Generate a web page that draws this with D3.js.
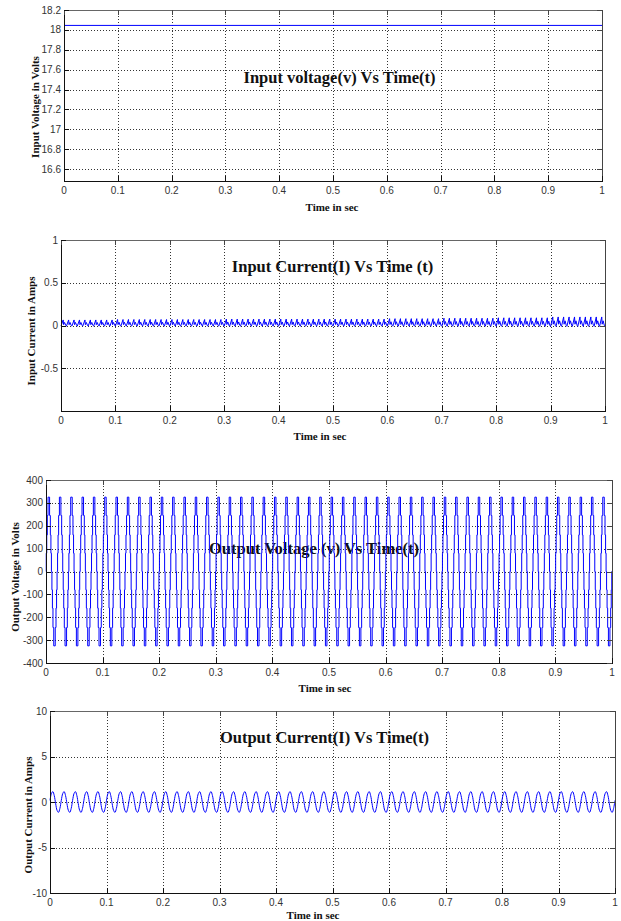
<!DOCTYPE html>
<html>
<head>
<meta charset="utf-8">
<script src="https://cdn.jsdelivr.net/npm/d3@7"></script>
<style>
  body { margin: 0; background: #fff; }
  .tick-label { font-family: "Liberation Sans", Arial, sans-serif; font-size: 10px; fill: #333; }
  .title { font-family: "Liberation Serif", "Times New Roman", serif; font-weight: bold; font-size: 16.5px; fill: #111; }
  .axis-label { font-family: "Liberation Serif", "Times New Roman", serif; font-weight: bold; font-size: 11px; fill: #111; }
</style>
</head>
<body>
<svg id="chart" width="621" height="921"></svg>
<script>
// shared time axis
var timeTicks = [0, 0.1, 0.2, 0.3, 0.4, 0.5, 0.6, 0.7, 0.8, 0.9, 1];
var timeTickLabels = ["0", "0.1", "0.2", "0.3", "0.4", "0.5", "0.6", "0.7", "0.8", "0.9", "1"];

// input voltage (flat dc)
var inVoltTime = [0, 1];
var inVoltValue = [18.045, 18.045];
var inVoltTicks = [16.6, 16.8, 17, 17.2, 17.4, 17.6, 17.8, 18, 18.2];

// input current : 100 Hz ripple, peak grows a bit with time
var inCurrTicks = [-0.5, 0, 0.5, 1];
var inCurrCycleStart = [0, 0.01, 0.02, 0.03, 0.04, 0.05, 0.06, 0.07, 0.08, 0.09,
  0.10, 0.11, 0.12, 0.13, 0.14, 0.15, 0.16, 0.17, 0.18, 0.19,
  0.20, 0.21, 0.22, 0.23, 0.24, 0.25, 0.26, 0.27, 0.28, 0.29,
  0.30, 0.31, 0.32, 0.33, 0.34, 0.35, 0.36, 0.37, 0.38, 0.39,
  0.40, 0.41, 0.42, 0.43, 0.44, 0.45, 0.46, 0.47, 0.48, 0.49,
  0.50, 0.51, 0.52, 0.53, 0.54, 0.55, 0.56, 0.57, 0.58, 0.59,
  0.60, 0.61, 0.62, 0.63, 0.64, 0.65, 0.66, 0.67, 0.68, 0.69,
  0.70, 0.71, 0.72, 0.73, 0.74, 0.75, 0.76, 0.77, 0.78, 0.79,
  0.80, 0.81, 0.82, 0.83, 0.84, 0.85, 0.86, 0.87, 0.88, 0.89,
  0.90, 0.91, 0.92, 0.93, 0.94, 0.95, 0.96, 0.97, 0.98, 0.99];
var inCurrShapeTime = [0, 0.004, 0.0048, 0.0066, 0.0088];
var inCurrShapeLevel = [-0.1, 1, 0.15, 0.55, 0.0];   // fraction of the cycle peak
var inCurrPeakBySegment = [0.065, 0.07, 0.07, 0.075, 0.075, 0.075, 0.08, 0.085, 0.09, 0.1];

// output voltage : 50 Hz stepped (multilevel) wave
var outVoltTicks = [-400, -300, -200, -100, 0, 100, 200, 300, 400];
var cycleStart50 = [0, 0.02, 0.04, 0.06, 0.08, 0.10, 0.12, 0.14, 0.16, 0.18,
  0.20, 0.22, 0.24, 0.26, 0.28, 0.30, 0.32, 0.34, 0.36, 0.38,
  0.40, 0.42, 0.44, 0.46, 0.48, 0.50, 0.52, 0.54, 0.56, 0.58,
  0.60, 0.62, 0.64, 0.66, 0.68, 0.70, 0.72, 0.74, 0.76, 0.78,
  0.80, 0.82, 0.84, 0.86, 0.88, 0.90, 0.92, 0.94, 0.96, 0.98];
var outVoltSwitchTime = [0, 0.00044, 0.00133, 0.00233, 0.00367, 0.00633, 0.00767, 0.00867, 0.00956,
  0.01044, 0.01133, 0.01233, 0.01367, 0.01633, 0.01767, 0.01867, 0.01956];
var outVoltLevel = [0, 80, 160, 245, 325, 245, 160, 80, 0, -80, -160, -245, -325, -245, -160, -80, 0];

// output current : 50 Hz sine, ~1.15 A peak
var outCurrTicks = [-10, -5, 0, 5, 10];
var outCurrShapeTime = [0, 0.0025, 0.005, 0.0075, 0.01, 0.0125, 0.015, 0.0175];
var outCurrShapeValue = [0.18, 0.92, 1.14, 0.71, -0.18, -0.92, -1.14, -0.71];

// build the series from the cycle pieces
var inCurrData = [];
inCurrCycleStart.forEach(function (s) {
  var peak = inCurrPeakBySegment[Math.min(9, Math.floor(s * 10 + 1e-9))];
  inCurrShapeTime.forEach(function (t, j) {
    inCurrData.push([s + t, inCurrShapeLevel[j] * peak]);
  });
});
inCurrData.push([1, 0]);

var outVoltData = [];
cycleStart50.forEach(function (s) {
  outVoltSwitchTime.forEach(function (t, j) {
    outVoltData.push([s + t, outVoltLevel[j]]);
  });
});
outVoltData.push([1, 0]);

var outCurrData = [];
cycleStart50.forEach(function (s) {
  outCurrShapeTime.forEach(function (t, j) {
    outCurrData.push([s + t, outCurrShapeValue[j]]);
  });
});
outCurrData.push([1, outCurrShapeValue[0]]);

var inVoltData = inVoltTime.map(function (t, i) { return [t, inVoltValue[i]]; });

var panels = [
  { box: [64, 10, 602, 181], yDomain: [16.48, 18.2], yTicks: inVoltTicks, data: inVoltData, curve: d3.curveLinear,
    title: "Input voltage(v) Vs Time(t)", titlePos: [339.5, 77],
    ylabel: "Input Voltage in Volts", ylabelPos: [35, 107], xlabelPos: [332, 207] },
  { box: [61, 240, 605, 411], yDomain: [-1, 1], yTicks: inCurrTicks, data: inCurrData, curve: d3.curveLinear,
    title: "Input Current(I) Vs Time (t)", titlePos: [332.5, 266],
    ylabel: "Input Current in Amps", ylabelPos: [31, 331], xlabelPos: [320, 436] },
  { box: [46, 480, 612, 663], yDomain: [-400, 400], yTicks: outVoltTicks, data: outVoltData, curve: d3.curveStepAfter,
    title: "Output Voltage (v) Vs Time(t)", titlePos: [314, 548],
    ylabel: "Output Voltage in Volts", ylabelPos: [15, 577], xlabelPos: [325, 688] },
  { box: [50, 711, 615, 893], yDomain: [-10, 10], yTicks: outCurrTicks, data: outCurrData, curve: d3.curveCatmullRom,
    title: "Output Current(I) Vs Time(t)", titlePos: [324.5, 737],
    ylabel: "Output Current in Amps", ylabelPos: [28, 815], xlabelPos: [313, 915] }
];

var svg = d3.select("#chart");
svg.append("rect").attr("width", 621).attr("height", 921).attr("fill", "#fff");

panels.forEach(drawPanel);

function drawPanel(p) {
  var L = p.box[0], T = p.box[1], R = p.box[2], B = p.box[3];
  var x = d3.scaleLinear().domain([0, 1]).range([L, R]);
  var y = d3.scaleLinear().domain(p.yDomain).range([B, T]);
  var g = svg.append("g");

  // dotted grid
  g.selectAll(".vgrid").data(timeTicks.slice(1, -1)).enter().append("line")
    .attr("x1", function (d) { return Math.round(x(d)) + 0.5; })
    .attr("x2", function (d) { return Math.round(x(d)) + 0.5; })
    .attr("y1", T).attr("y2", B)
    .attr("stroke", "#333").attr("stroke-dasharray", "1,2");
  g.selectAll(".hgrid").data(p.yTicks.filter(function (d) { return d > p.yDomain[0] && d < p.yDomain[1]; }))
    .enter().append("line")
    .attr("y1", function (d) { return Math.round(y(d)) + 0.5; })
    .attr("y2", function (d) { return Math.round(y(d)) + 0.5; })
    .attr("x1", L).attr("x2", R)
    .attr("stroke", "#333").attr("stroke-dasharray", "1,2");

  // title sits under the trace
  g.append("text").attr("class", "title")
    .attr("x", p.titlePos[0]).attr("y", p.titlePos[1]).attr("dy", "0.35em")
    .attr("text-anchor", "middle").text(p.title);

  // trace
  var line = d3.line()
    .x(function (d) { return x(d[0]); })
    .y(function (d) { return y(d[1]); })
    .curve(p.curve);
  g.append("path").datum(p.data)
    .attr("d", line)
    .attr("fill", "none").attr("stroke", "#0000ff").attr("stroke-width", 1);

  // frame
  g.append("line").attr("x1", L).attr("x2", R).attr("y1", T + 0.5).attr("y2", T + 0.5).attr("stroke", "#666");
  g.append("line").attr("x1", R + 0.5).attr("x2", R + 0.5).attr("y1", T).attr("y2", B).attr("stroke", "#444");
  g.append("line").attr("x1", L).attr("x2", R + 1).attr("y1", B + 0.5).attr("y2", B + 0.5).attr("stroke", "#111");
  g.append("line").attr("x1", L + 0.5).attr("x2", L + 0.5).attr("y1", T).attr("y2", B + 1).attr("stroke", "#111");

  // inward ticks on all four sides
  timeTicks.forEach(function (d) {
    var xx = Math.round(x(d)) + 0.5;
    g.append("line").attr("x1", xx).attr("x2", xx).attr("y1", B).attr("y2", B - 5).attr("stroke", "#111");
    g.append("line").attr("x1", xx).attr("x2", xx).attr("y1", T).attr("y2", T + 5).attr("stroke", "#444");
  });
  p.yTicks.forEach(function (d) {
    var yy = Math.round(y(d)) + 0.5;
    g.append("line").attr("y1", yy).attr("y2", yy).attr("x1", L).attr("x2", L + 5).attr("stroke", "#111");
    g.append("line").attr("y1", yy).attr("y2", yy).attr("x1", R).attr("x2", R - 5).attr("stroke", "#444");
  });

  // tick labels
  g.selectAll(".xt").data(timeTicks).enter().append("text").attr("class", "tick-label")
    .attr("x", function (d) { return x(d); })
    .attr("y", B + 9).attr("dy", "0.35em")
    .attr("text-anchor", "middle")
    .text(function (d, i) { return timeTickLabels[i]; });
  g.selectAll(".yt").data(p.yTicks).enter().append("text").attr("class", "tick-label")
    .attr("x", L - 3)
    .attr("y", function (d) { return y(d); }).attr("dy", "0.35em")
    .attr("text-anchor", "end")
    .text(function (d) { return String(d); });

  // axis labels
  g.append("text").attr("class", "axis-label")
    .attr("x", p.xlabelPos[0]).attr("y", p.xlabelPos[1]).attr("dy", "0.35em")
    .attr("text-anchor", "middle").text("Time in sec");
  g.append("text").attr("class", "axis-label")
    .attr("transform", "translate(" + p.ylabelPos[0] + "," + p.ylabelPos[1] + ") rotate(-90)")
    .attr("dy", "0.35em")
    .attr("text-anchor", "middle").text(p.ylabel);
}
</script>
</body>
</html>
